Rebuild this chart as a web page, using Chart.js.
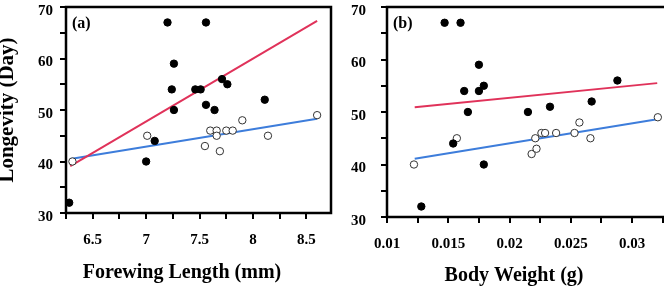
<!DOCTYPE html>
<html>
<head>
<meta charset="utf-8">
<script src="https://cdn.jsdelivr.net/npm/chart.js@4.4.0/dist/chart.umd.min.js"></script>
<style>
html, body { margin: 0; padding: 0; background: #fff; overflow: hidden; }
#wrap { position: relative; width: 664px; height: 289px; overflow: hidden; }
#chartA { position: absolute; left: 0; top: 0; }
#chartB { position: absolute; left: 340px; top: 0; }
</style>
</head>
<body>
<div id="wrap">
    <canvas id="chartA" width="340" height="289"></canvas>
    <canvas id="chartB" width="340" height="289"></canvas>
</div>
<script>
// (a) longevity vs forewing length
var wingFilledX = [7.20, 7.56, 7.26, 7.24, 7.26, 7.46, 7.51, 7.71, 7.76, 7.56, 7.64, 8.11, 7.08, 7.00, 6.28];
var wingFilledY = [67, 67, 59, 54, 50, 54, 54, 56, 55, 51, 50, 52, 44, 40, 32];
var wingOpenX = [6.31, 7.01, 7.55, 7.60, 7.66, 7.66, 7.69, 7.75, 7.81, 7.90, 8.14, 8.60];
var wingOpenY = [40, 45, 43, 46, 46, 45, 42, 46, 46, 48, 45, 49];
var wingRedX = [6.29, 8.60];
var wingRedY = [39.1, 67.3];
var wingBlueX = [6.29, 8.60];
var wingBlueY = [40.5, 48.3];

// (b) longevity vs body weight
var weightFilledX = [0.0147, 0.0160, 0.0175, 0.0163, 0.0175, 0.0179, 0.0166, 0.0154, 0.0179, 0.0128, 0.0215, 0.0233, 0.0267, 0.0288];
var weightFilledY = [67, 67, 59, 54, 54, 55, 50, 44, 40, 32, 50, 51, 52, 56];
var weightOpenX = [0.0122, 0.0157, 0.0218, 0.0222, 0.0221, 0.0226, 0.0229, 0.0238, 0.0253, 0.0257, 0.0266, 0.0321];
var weightOpenY = [40, 45, 42, 43, 45, 46, 46, 46, 46, 48, 45, 49];
var weightRedX = [0.01226, 0.03205];
var weightRedY = [50.9, 55.5];
var weightBlueX = [0.01226, 0.03205];
var weightBlueY = [41.1, 48.6];

// ticks (minor ones get no label)
var wingTicks = [6.25, 6.5, 6.75, 7, 7.25, 7.5, 7.75, 8, 8.25, 8.5];
var wingLabels = [6.5, 7, 7.5, 8, 8.5];
var weightTicks = [0.01, 0.0125, 0.015, 0.0175, 0.02, 0.0225, 0.025, 0.0275, 0.03, 0.0325];
var weightLabels = [0.01, 0.015, 0.02, 0.025, 0.03];
var yTicks = [30, 35, 40, 45, 50, 55, 60, 65, 70];
var yLabels = [30, 40, 50, 60, 70];

var RED = "#e0325a";
var BLUE = "#3d7ddb";
var SERIF = "'Liberation Serif', 'Times New Roman', serif";

function pairs(xs, ys) {
    var out = [];
    for (let i = 0; i < xs.length; i++) {
        out.push({ x: xs[i], y: ys[i] });
    }
    return out;
}

function labelFor(list) {
    return function (value) {
        for (let i = 0; i < list.length; i++) {
            if (Math.abs(list[i] - value) < 1e-9) return String(list[i]);
        }
        return "";
    };
}

function setTicks(list) {
    return function (scale) {
        scale.ticks = list.map(function (v) { return { value: v }; });
    };
}

// frame, panel letter and x title
var panelPlugin = {
    id: "panel",
    afterDraw: function (chart, args, opts) {
        var ctx = chart.ctx;
        var a = chart.chartArea;
        ctx.save();
        ctx.strokeStyle = "#000";
        ctx.lineWidth = 2.5;
        ctx.strokeRect(a.left, a.top, a.right - a.left, a.bottom - a.top);
        ctx.fillStyle = "#000";
        ctx.textBaseline = "middle";
        ctx.textAlign = "left";
        ctx.font = "bold 16px " + SERIF;
        ctx.fillText(opts.letter, a.left + 6, a.top + 17);
        ctx.textAlign = "center";
        ctx.font = "bold 20px " + SERIF;
        ctx.fillText(opts.xTitle, opts.titleX, opts.titleY);
        ctx.restore();
    },
};

function makeChart(id, o) {
    var tickFont = { family: SERIF, size: 15, weight: "bold" };
    var config = {
        type: "scatter",
        data: {
            datasets: [
                {
                    data: pairs(o.filledX, o.filledY),
                    backgroundColor: "#000",
                    borderColor: "#000",
                    pointRadius: 3.7,
                    order: 0,
                },
                {
                    data: pairs(o.openX, o.openY),
                    backgroundColor: "#fff",
                    borderColor: "#333",
                    borderWidth: 1,
                    pointRadius: 3.7,
                    order: 1,
                },
                {
                    data: pairs(o.redX, o.redY),
                    showLine: true,
                    borderColor: RED,
                    borderWidth: 2,
                    pointRadius: 0,
                    order: 2,
                },
                {
                    data: pairs(o.blueX, o.blueY),
                    showLine: true,
                    borderColor: BLUE,
                    borderWidth: 2,
                    pointRadius: 0,
                    order: 3,
                },
            ],
        },
        options: {
            responsive: false,
            animation: false,
            layout: { padding: { top: o.padTop, right: o.padRight, left: 0, bottom: 0 } },
            plugins: {
                legend: { display: false },
                tooltip: { enabled: false },
                panel: { letter: o.letter, xTitle: o.xTitle, titleX: o.titleX, titleY: o.titleY },
            },
            scales: {
                x: {
                    type: "linear",
                    min: o.xMin,
                    max: o.xMax,
                    afterBuildTicks: setTicks(o.xTicks),
                    afterFit: function (scale) {
                        scale.height = o.xHeight;
                        scale.paddingLeft = 0;
                        scale.paddingRight = 0;
                    },
                    grid: { drawOnChartArea: false, tickLength: 6, color: "#000", lineWidth: 2 },
                    border: { display: false },
                    ticks: {
                        autoSkip: false,
                        maxRotation: 0,
                        padding: 12,
                        color: "#000",
                        font: tickFont,
                        callback: labelFor(o.xLabels),
                    },
                },
                y: {
                    min: 30,
                    max: 70,
                    afterBuildTicks: setTicks(yTicks),
                    afterFit: function (scale) {
                        scale.width = o.yWidth;
                        scale.paddingTop = 0;
                        scale.paddingBottom = 0;
                    },
                    grid: { drawOnChartArea: false, tickLength: 6, color: "#000", lineWidth: 2 },
                    border: { display: false },
                    ticks: {
                        autoSkip: false,
                        padding: o.yPad,
                        labelOffset: 4,
                        color: "#000",
                        font: tickFont,
                        callback: labelFor(yLabels),
                    },
                    title: {
                        display: o.yTitle !== "",
                        text: o.yTitle,
                        color: "#000",
                        font: { family: SERIF, size: 21, weight: "bold", lineHeight: 1 },
                        padding: { top: -3, bottom: 0 },
                    },
                },
            },
        },
        plugins: [panelPlugin],
    };
    return new Chart(document.getElementById(id).getContext("2d"), config);
}

makeChart("chartA", {
    filledX: wingFilledX, filledY: wingFilledY,
    openX: wingOpenX, openY: wingOpenY,
    redX: wingRedX, redY: wingRedY,
    blueX: wingBlueX, blueY: wingBlueY,
    xMin: 6.25, xMax: 8.73,
    xTicks: wingTicks, xLabels: wingLabels,
    letter: "(a)", xTitle: "Forewing Length (mm)", yTitle: "Longevity (Day)",
    titleX: 182, titleY: 273,
    padTop: 7, padRight: 9, xHeight: 76, yWidth: 66, yPad: 7,
});

makeChart("chartB", {
    filledX: weightFilledX, filledY: weightFilledY,
    openX: weightOpenX, openY: weightOpenY,
    redX: weightRedX, redY: weightRedY,
    blueX: weightBlueX, blueY: weightBlueY,
    xMin: 0.01, xMax: 0.0335,
    xTicks: weightTicks, xLabels: weightLabels,
    letter: "(b)", xTitle: "Body Weight (g)", yTitle: "",
    titleX: 174, titleY: 276,
    padTop: 7, padRight: 2, xHeight: 72, yWidth: 47, yPad: 15,
});
</script>
</body>
</html>
